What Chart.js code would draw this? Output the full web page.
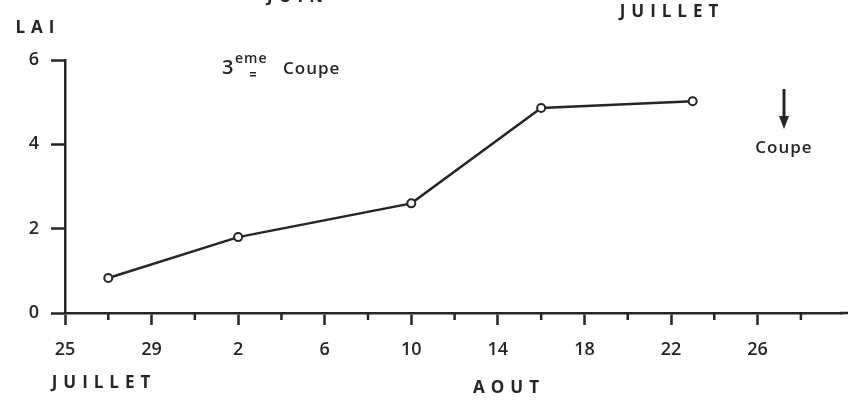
<!DOCTYPE html>
<html>
<head>
<meta charset="utf-8">
<script src="https://cdn.jsdelivr.net/npm/chart.js@4"></script>
<style>
  body { margin: 0; background: #fff; }
  #box { width: 848px; height: 408px; position: relative; }
</style>
</head>
<body>
<div id="box"><canvas id="lai"></canvas></div>
<script>
// days counted from 25 juillet
const jours = [2, 8, 16, 22, 29];
const lai = [0.83, 1.8, 2.6, 4.86, 5.02];
const tickJours = [0, 4, 8, 12, 16, 20, 24, 28, 32];
const tickLabels = ['25', '29', '2', '6', '10', '14', '18', '22', '26'];
const ink = '#262626';
const police = '"Open Sans", "DejaVu Sans", sans-serif';

// short ticks between the labelled ones + free text of the figure
const decor = {
    id: 'decor',
    afterDraw(chart) {
        const ctx = chart.ctx;
        const x = chart.scales.x;
        const base = chart.chartArea.bottom;
        ctx.save();
        ctx.strokeStyle = ink;
        ctx.lineWidth = 2.5;
        for (let d = 2; d <= 34; d += 4) {
            const px = x.getPixelForValue(d);
            ctx.beginPath(); ctx.moveTo(px, base); ctx.lineTo(px, base + 7); ctx.stroke();
        }
        // axis runs on to the edge of the sheet
        ctx.beginPath(); ctx.moveTo(chart.chartArea.right - 2, base); ctx.lineTo(848, base); ctx.stroke();
        ctx.fillStyle = ink;
        ctx.textAlign = 'center';
        ctx.textBaseline = 'middle';
        ctx.font = '700 17px ' + police;
        ctx.letterSpacing = '6px';
        ctx.fillText('LAI', 38, 28);
        ctx.fillText('JUIN', 298, -3);
        ctx.fillText('JUILLET', 672, 12);
        ctx.fillText('JUILLET', 104, 383);
        ctx.fillText('AOUT', 509, 388);
        ctx.letterSpacing = '1px';
        ctx.font = '600 20px ' + police;
        ctx.textAlign = 'left';
        ctx.fillText('3', 222, 68);
        ctx.font = '600 14px ' + police;
        ctx.fillText('eme', 235, 59);
        ctx.fillRect(250, 72, 6, 1.5);
        ctx.fillRect(250, 75, 6, 1.5);
        ctx.font = '600 17px ' + police;
        ctx.fillText('Coupe', 283, 69);
        ctx.textAlign = 'center';
        ctx.fillText('Coupe', 784, 148);
        // arrow
        ctx.lineWidth = 3;
        ctx.beginPath(); ctx.moveTo(784, 89); ctx.lineTo(784, 122); ctx.stroke();
        ctx.beginPath(); ctx.moveTo(779, 116); ctx.lineTo(784, 129); ctx.lineTo(789, 116); ctx.closePath(); ctx.fill();
        ctx.restore();
    }
};

new Chart(document.getElementById('lai'), {
    type: 'line',
    data: {
        datasets: [{
            data: jours.map((j, i) => ({x: j, y: lai[i]})),
            borderColor: ink,
            borderWidth: 2.5,
            pointRadius: 4,
            pointBorderWidth: 2,
            pointBorderColor: ink,
            pointBackgroundColor: '#fff',
            tension: 0
        }]
    },
    options: {
        responsive: true,
        maintainAspectRatio: false,
        animation: false,
        layout: { padding: { top: 60, right: 0, left: 0, bottom: 0 } },
        plugins: { legend: { display: false }, tooltip: { enabled: false } },
        scales: {
            x: {
                type: 'linear',
                min: 0,
                max: 35.9,
                afterFit: s => { s.height = 95; },
                afterBuildTicks: s => { s.ticks = tickJours.map(v => ({value: v})); },
                ticks: {
                    autoSkip: false,
                    maxRotation: 0,
                    padding: 14,
                    color: ink,
                    font: { family: police, size: 18, weight: '600' },
                    callback: v => tickLabels[tickJours.indexOf(v)]
                },
                grid: { drawOnChartArea: false, tickLength: 12, tickColor: ink, tickWidth: 2.5 },
                border: { color: ink, width: 2.5 }
            },
            y: {
                min: 0,
                max: 6,
                afterFit: s => { s.width = 65; },
                ticks: {
                    stepSize: 2,
                    padding: 12,
                    color: ink,
                    font: { family: police, size: 18, weight: '600' }
                },
                grid: { drawOnChartArea: false, tickLength: 14, tickColor: ink, tickWidth: 2.5 },
                border: { color: ink, width: 2.5 }
            }
        }
    },
    plugins: [decor]
});
</script>
</body>
</html>
